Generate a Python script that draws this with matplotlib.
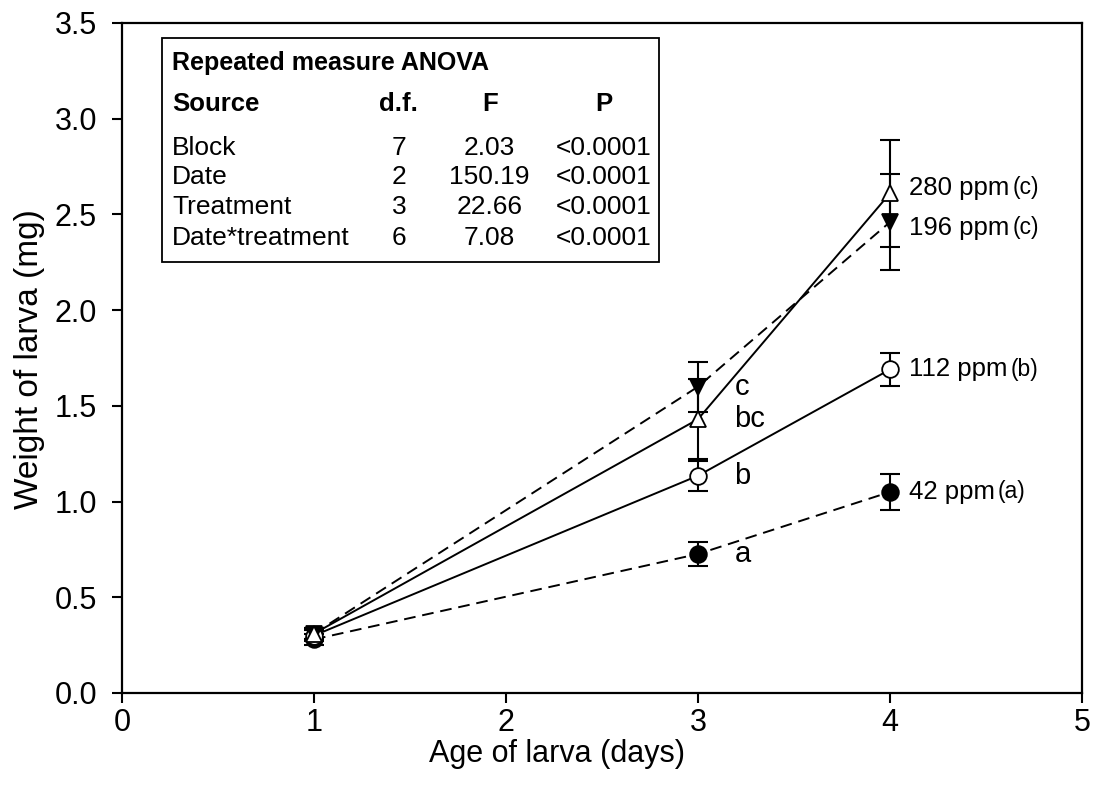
import matplotlib
matplotlib.use("Agg")
import matplotlib.pyplot as plt
from matplotlib.patches import Rectangle

plt.rcParams["font.family"] = ["Liberation Sans", "DejaVu Sans"]

# larval weight (mg) by age, mean and error per dose
days = [1, 3, 4]
w_42 = [0.28, 0.726, 1.05]
e_42 = [0.03, 0.065, 0.094]
w_112 = [0.30, 1.135, 1.69]
e_112 = [0.03, 0.078, 0.085]
w_196 = [0.31, 1.60, 2.46]
e_196 = [0.03, 0.13, 0.25]
w_280 = [0.31, 1.43, 2.61]
e_280 = [0.03, 0.21, 0.28]

dose_labels = ["42 ppm", "112 ppm", "196 ppm", "280 ppm"]
dose_groups = ["(a)", "(b)", "(c)", "(c)"]
day3_groups = ["a", "b", "c", "bc"]

anova_source = ["Block", "Date", "Treatment", "Date*treatment"]
anova_df = ["7", "2", "3", "6"]
anova_f = ["2.03", "150.19", "22.66", "7.08"]
anova_p = ["<0.0001", "<0.0001", "<0.0001", "<0.0001"]

W, H = 1094, 790
fig = plt.figure(figsize=(W / 100, H / 100), dpi=100)
ax = fig.add_axes([0.1115, 0.1228, 0.8775, 0.8481])

dash = (0, (6, 3.5))
series = [
    (w_42, e_42, "o", "black", dash),
    (w_112, e_112, "o", "white", "-"),
    (w_196, e_196, "v", "black", dash),
    (w_280, e_280, "^", "white", "-"),
]
for w, e, m, fc, ls in series:
    ax.errorbar(days, w, yerr=e, fmt="none", ecolor="black", elinewidth=1.5,
                capsize=7, capthick=1.5, zorder=2)
    ax.plot(days, w, color="black", lw=1.4, ls=ls, zorder=3)
    ax.plot(days, w, ls="none", marker=m, ms=12, mfc=fc, mec="black",
            mew=1.3, zorder=4)

# group letters beside day-3 means
for w, g in zip([w_42, w_112, w_196, w_280], day3_groups):
    ax.text(3.19, w[1], g, fontsize=21, va="center", ha="left")

# dose labels beside day-4 means
label_y = [w_42[2], w_112[2], w_196[2] - 0.03, w_280[2] + 0.03]
for y, name, grp in zip(label_y, dose_labels, dose_groups):
    t = ax.text(4.10, y, name, fontsize=18.5, va="center", ha="left")
    ax.annotate(grp, xycoords=t, xy=(1, 0.5), xytext=(2, 0),
                textcoords="offset points", fontsize=16.5, va="center", ha="left")

ax.set_xlim(0, 5)
ax.set_ylim(0, 3.5)
ax.set_xticks(range(6))
ax.set_yticks([i * 0.5 for i in range(8)])
ax.set_yticklabels([f"{i * 0.5:.1f}" for i in range(8)])
ax.tick_params(direction="out", length=7, width=1.5, labelsize=22,
               top=False, right=False)
ax.tick_params(axis="y", pad=11)
ax.tick_params(axis="x", pad=4)
for s in ax.spines.values():
    s.set_linewidth(1.6)

fig.text(557 / W, 1 - 754 / H, "Age of larva (days)", fontsize=22,
         ha="center", va="center")
fig.text(30 / W, 1 - 359 / H, "Weight of larva (mg)", fontsize=24,
         ha="center", va="center", rotation=90)

# ANOVA summary box
ax.add_patch(Rectangle((0.0417, 0.643), 0.5176, 0.335, transform=ax.transAxes,
                       fill=False, lw=1.3, ec="black", zorder=5))
tx = dict(transform=ax.transAxes, va="center", zorder=6)
ax.text(0.052, 0.940, "Repeated measure ANOVA", fontsize=18, weight="bold",
        ha="left", **tx)
for x, h, ha in [(0.052, "Source", "left"), (0.2885, "d.f.", "center"),
                 (0.383, "F", "center"), (0.502, "P", "center")]:
    ax.text(x, 0.879, h, fontsize=18.5, weight="bold", ha=ha, **tx)
row_y = [0.813, 0.770, 0.725, 0.679]
for y, s, d, f, p in zip(row_y, anova_source, anova_df, anova_f, anova_p):
    ax.text(0.052, y, s, fontsize=19, ha="left", **tx)
    ax.text(0.2885, y, d, fontsize=19, ha="center", **tx)
    ax.text(0.383, y, f, fontsize=19, ha="center", **tx)
    ax.text(0.502, y, p, fontsize=19, ha="center", **tx)

fig.savefig("out.png", dpi=100)
